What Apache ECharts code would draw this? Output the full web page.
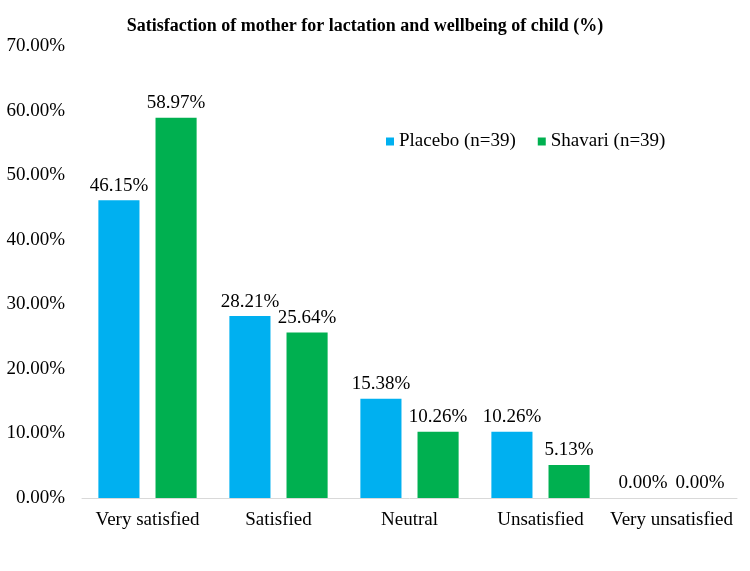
<!DOCTYPE html>
<html><head><meta charset="utf-8">
<script src="https://cdn.jsdelivr.net/npm/echarts@6/dist/echarts.min.js"></script>
<style>html,body{margin:0;padding:0;background:#fff}#c{width:750px;height:571px}</style>
</head><body><div id="c"></div>
<script>
const categories = ['Very satisfied', 'Satisfied', 'Neutral', 'Unsatisfied', 'Very unsatisfied'];
const placebo = [46.15, 28.21, 15.38, 10.26, 0.00];
const shavari = [58.97, 25.64, 10.26, 5.13, 0.00];
const seriesNames = ['Placebo (n=39)', 'Shavari (n=39)'];
const titleText = 'Satisfaction of mother for lactation and wellbeing of child (%)';

const FONT = '"Liberation Serif", "Times New Roman", serif';
const chart = echarts.init(document.getElementById('c'));
const lbl = {show: true, position: 'top', distance: 5, color: '#000', fontFamily: FONT, fontSize: 19,
  formatter: p => p.value.toFixed(2) + '%'};
chart.setOption({
  animation: false,
  title: {text: titleText, left: 360, textAlign: 'center', top: 12,
    textStyle: {fontFamily: FONT, fontSize: 18, fontWeight: 'bold', color: '#000'}},
  legend: {left: 381, top: 127, icon: 'rect', itemWidth: 8, itemHeight: 8, itemGap: 22,
    textStyle: {fontFamily: FONT, fontSize: 19, color: '#000'}},
  grid: {left: 82, right: 13, top: 46.5, bottom: 73},
  xAxis: {type: 'category', data: categories,
    axisLine: {lineStyle: {color: '#d9d9d9'}}, axisTick: {show: false},
    axisLabel: {color: '#000', fontFamily: FONT, fontSize: 19, margin: 13, interval: 0}},
  yAxis: {type: 'value', min: 0, max: 70, interval: 10,
    axisLine: {show: false}, axisTick: {show: false}, splitLine: {show: false},
    axisLabel: {color: '#000', fontFamily: FONT, fontSize: 19, margin: 17,
      formatter: v => v.toFixed(2) + '%'}},
  series: [
    {name: seriesNames[0], type: 'bar', data: placebo, itemStyle: {color: '#00B0F0'},
     barGap: '39%', barCategoryGap: '25%', label: lbl},
    {name: seriesNames[1], type: 'bar', data: shavari, itemStyle: {color: '#00B050'}, label: lbl}
  ]
});
</script></body></html>
